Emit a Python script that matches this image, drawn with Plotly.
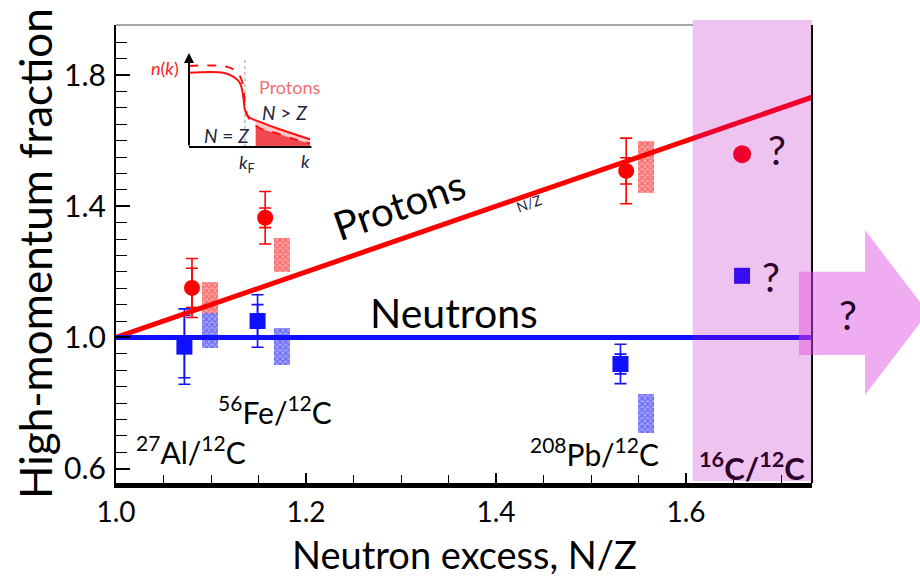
import plotly.graph_objects as go

# ---------------- data ----------------
targets = ["<sup>27</sup>Al/<sup>12</sup>C", "<sup>56</sup>Fe/<sup>12</sup>C", "<sup>208</sup>Pb/<sup>12</sup>C"]
target_label_x = [1.079, 1.167, 1.504]
target_label_y = [0.657, 0.779, 0.651]

proton_x = [1.080, 1.157, 1.537]
proton_y = [1.151, 1.365, 1.508]
proton_err_inner = [0.06, 0.03, 0.04]
proton_err_outer = [0.09, 0.08, 0.10]

neutron_x = [1.072, 1.149, 1.531]
neutron_y = [0.972, 1.050, 0.919]
neutron_err_inner = [0.095, 0.05, 0.03]
neutron_err_outer = [0.115, 0.08, 0.06]

band_x = [1.0985, 1.175, 1.558]
proton_band_lo = [1.075, 1.200, 1.441]
proton_band_hi = [1.169, 1.303, 1.600]
neutron_band_lo = [0.968, 0.916, 0.708]
neutron_band_hi = [1.075, 1.028, 0.828]

c16_x = [1.659]
c16_proton_y = [1.559]
c16_neutron_y = [1.188]
c16_label = "<b><sup>16</sup>C/<sup>12</sup>C</b>"
c16_region = [1.607, 1.7326]

line_x = [1.0, 1.74]
protons_line_y = [1.0, 1.74]
neutrons_line_y = [1.0, 1.0]

x_range = [1.0, 1.7326]
y_range = [0.556, 1.953]

# inset schematic n(k)
inset_k_solid = [0.0, 0.279, 0.360, 0.415, 0.441, 0.455, 0.482, 0.550, 0.713, 0.876, 0.984]
inset_n_solid = [0.790, 0.790, 0.748, 0.678, 0.535, 0.394, 0.322, 0.280, 0.199, 0.128, 0.082]
inset_k_dashed = [0.0, 0.307, 0.388, 0.428, 0.447, 0.461, 0.496, 0.577, 0.713, 0.876, 0.984]
inset_n_dashed = [0.862, 0.854, 0.801, 0.713, 0.571, 0.394, 0.287, 0.199, 0.146, 0.074, 0.039]
tail_k = [0.542, 0.600, 0.713, 0.876, 0.984]
tail_n_solid = [0.284, 0.258, 0.199, 0.128, 0.082]
tail_n_dashed = [0.237, 0.185, 0.146, 0.074, 0.039]
k_fermi = [0.455, 0.455]
k_fermi_n = [0.0, 0.947]

# ---------------- geometry ----------------
W, H = 920, 576
ML, MR, MT, MB = 116, 108, 25, 93
PW, PH = W - ML - MR, H - MT - MB


def px(xp):
    return (xp - ML) / PW


def py(yp):
    return (H - MB - yp) / PH


FONT = "Lato"
RED = "#FF0000"
BLUE = "#1010FF"

fig = go.Figure()

# theory bands (hatched)
fig.add_trace(go.Bar(
    x=band_x, base=proton_band_lo,
    y=[h - l for h, l in zip(proton_band_hi, proton_band_lo)],
    width=0.017, marker=dict(color="rgba(255,90,90,0.7)", line=dict(width=0),
                             pattern=dict(shape="x", fgcolor="rgba(235,0,0,0.75)", bgcolor="rgba(255,125,125,0.7)",
                                          size=4, solidity=0.5)),
    showlegend=False, hoverinfo="skip"))
fig.add_trace(go.Bar(
    x=band_x, base=neutron_band_lo,
    y=[h - l for h, l in zip(neutron_band_hi, neutron_band_lo)],
    width=0.017, marker=dict(color="rgba(90,90,255,0.7)", line=dict(width=0),
                             pattern=dict(shape="x", fgcolor="rgba(0,0,235,0.75)", bgcolor="rgba(125,125,255,0.7)",
                                          size=4, solidity=0.5)),
    showlegend=False, hoverinfo="skip"))

# data points with two-level error bars
for xs, ys, ein, eout, col, sym in [
    (proton_x, proton_y, proton_err_inner, proton_err_outer, RED, "circle"),
    (neutron_x, neutron_y, neutron_err_inner, neutron_err_outer, BLUE, "square"),
]:
    fig.add_trace(go.Scatter(x=xs, y=ys, mode="markers", marker=dict(size=1, color=col),
                             error_y=dict(type="data", array=eout, color=col, thickness=1.6, width=6),
                             showlegend=False, hoverinfo="skip"))
    fig.add_trace(go.Scatter(x=xs, y=ys, mode="markers", marker=dict(size=16, color=col, symbol=sym),
                             error_y=dict(type="data", array=ein, color=col, thickness=1.6, width=6),
                             showlegend=False, hoverinfo="skip"))

# 16C placeholders
fig.add_trace(go.Scatter(x=c16_x, y=c16_proton_y, mode="markers",
                         marker=dict(size=18, color=RED, symbol="circle"), showlegend=False))
fig.add_trace(go.Scatter(x=c16_x, y=c16_neutron_y, mode="markers",
                         marker=dict(size=16, color=BLUE, symbol="square"), showlegend=False))

# N/Z and constant lines
fig.add_trace(go.Scatter(x=line_x, y=protons_line_y, mode="lines",
                         line=dict(color=RED, width=5), showlegend=False))
fig.add_trace(go.Scatter(x=line_x, y=neutrons_line_y, mode="lines",
                         line=dict(color=BLUE, width=5), showlegend=False))

# ---------------- inset ----------------
ik = dict(xaxis="x2", yaxis="y2", showlegend=False, hoverinfo="skip")
fig.add_trace(go.Scatter(x=tail_k, y=tail_n_dashed, mode="lines", line=dict(width=0),
                         fill="tozeroy", fillcolor="rgba(240,40,50,0.85)", **ik))
fig.add_trace(go.Scatter(x=tail_k, y=tail_n_solid, mode="lines", line=dict(width=0),
                         fill="tonexty", fillcolor="rgba(255,160,160,0.6)", **ik))
fig.add_trace(go.Scatter(x=k_fermi, y=k_fermi_n, mode="lines",
                         line=dict(color="#999999", width=1, dash="dot"), **ik))
fig.add_trace(go.Scatter(x=inset_k_dashed, y=inset_n_dashed, mode="lines",
                         line=dict(color="#FF1010", width=2, dash="dash", shape="spline"), **ik))
fig.add_trace(go.Scatter(x=inset_k_solid, y=inset_n_solid, mode="lines",
                         line=dict(color="#FF1010", width=2, shape="spline"), **ik))
fig.add_trace(go.Scatter(x=[0, 0.995], y=[0, 0], mode="lines",
                         line=dict(color="black", width=2), **ik))

ix0, ix1 = 189 - 0.05 * 123, 312
iy0, iy1 = 147 + 0.05 * 94, 53

annotations = []
annotations.append(dict(x=0, y=1.0, ax=0, ay=0, xref="x2", yref="y2", axref="x2", ayref="y2",
                        showarrow=True, arrowhead=2, arrowsize=1, arrowwidth=2, arrowcolor="black", text=""))

def txt(x, y, t, size, color="black", xref="paper", yref="paper", angle=0, xanchor="center", **kw):
    annotations.append(dict(x=x, y=y, xref=xref, yref=yref, text=t, showarrow=False,
                            textangle=angle, xanchor=xanchor, yanchor="middle",
                            font=dict(family=FONT, size=size, color=color), **kw))

txt(px(181), py(68), "<i>n</i>(<i>k</i>)", 18, "#FF2020", xanchor="right")
txt(px(290), py(87), "Protons", 18, "#F07070")
txt(px(284), py(112), "<i>N</i> > <i>Z</i>", 19, "#1C2440")
txt(px(226), py(135), "<i>N</i> = <i>Z</i>", 19, "#1C2440")
txt(px(247), py(163), "<i>k</i><sub>F</sub>", 18, "#1C2440")
txt(px(305), py(161), "<i>k</i>", 18, "#1C2440")

# ---------------- main annotations ----------------
txt(1.298, 1.404, "Protons", 40, "black", xref="x", yref="y", angle=-19.2)
txt(1.356, 1.075, "Neutrons", 41, "black", xref="x", yref="y")
txt(1.434, 1.41, "N/Z", 14, "#1a1a30", xref="x", yref="y", angle=-19.2)
for t, x, y in zip(targets, target_label_x, target_label_y):
    txt(x, y, t, 30, "black", xref="x", yref="y")
txt(1.669, 0.605, c16_label, 31, "#2C002C", xref="x", yref="y")
txt(1.6955, 1.5716, "?", 40, "#2C002C", xref="x", yref="y")
txt(1.6892, 1.1845, "?", 40, "#2C002C", xref="x", yref="y")
txt(px(848), py(315), "?", 40, "#1a001a")

# axis titles
txt(px(35), 0.5, "High-momentum fraction", 44, "black", angle=-90)
txt(0.5, py(554), "Neutron excess, N/Z", 38, "black")

shapes = [
    dict(type="line", xref="paper", yref="paper", x0=0, x1=px(693), y0=1, y1=1,
         line=dict(color="#8a8a8a", width=1.5), layer="below"),
    dict(type="line", xref="paper", yref="paper", x0=1, x1=1, y0=0, y1=1,
         line=dict(color="black", width=2), layer="above"),
    dict(type="rect", xref="x", yref="paper", x0=c16_region[0], x1=c16_region[1],
         y0=py(481), y1=py(20), fillcolor="rgba(187,0,187,0.235)", line=dict(width=0), layer="above"),
    dict(type="path", xref="paper", yref="paper",
         path=(f"M {px(799)},{py(271.7)} L {px(865)},{py(271.7)} L {px(865)},{py(230)} "
               f"L {px(928)},{py(312.5)} L {px(865)},{py(395)} L {px(865)},{py(355)} "
               f"L {px(799)},{py(355)} Z"),
         fillcolor="rgba(222,70,222,0.45)", line=dict(width=0), layer="above"),
]

fig.update_layout(
    width=W, height=H, autosize=False,
    margin=dict(l=ML, r=MR, t=MT, b=MB, pad=0),
    paper_bgcolor="white", plot_bgcolor="white",
    barmode="overlay", bargap=0,
    font=dict(family=FONT, color="black"),
    xaxis=dict(range=x_range, tick0=1.0, dtick=0.2, tickformat=".1f",
               ticks="inside", ticklen=10, tickwidth=1.5, tickcolor="black",
               minor=dict(dtick=0.05, tick0=1.0, ticks="inside", ticklen=8, tickwidth=1, tickcolor="black"),
               showline=True, linewidth=5, linecolor="black", showgrid=False, zeroline=False,
               tickfont=dict(family=FONT, size=28, color="black")),
    yaxis=dict(range=y_range, tick0=0.6, dtick=0.4, tickformat=".1f",
               ticks="inside", ticklen=14, tickwidth=1.5, tickcolor="black",
               minor=dict(dtick=0.05, tick0=0.6, ticks="inside", ticklen=11, tickwidth=1, tickcolor="black"),
               showline=True, linewidth=2, linecolor="black", showgrid=False, zeroline=False,
               tickfont=dict(family=FONT, size=30, color="black"), ticklabelstandoff=2),
    xaxis2=dict(domain=[px(ix0), px(ix1)], range=[-0.05, 1.0], visible=False, anchor="y2"),
    yaxis2=dict(domain=[py(iy0), py(iy1)], range=[-0.05, 1.0], visible=False, anchor="x2"),
    shapes=shapes,
    annotations=annotations,
)

fig.write_html("out.html")
